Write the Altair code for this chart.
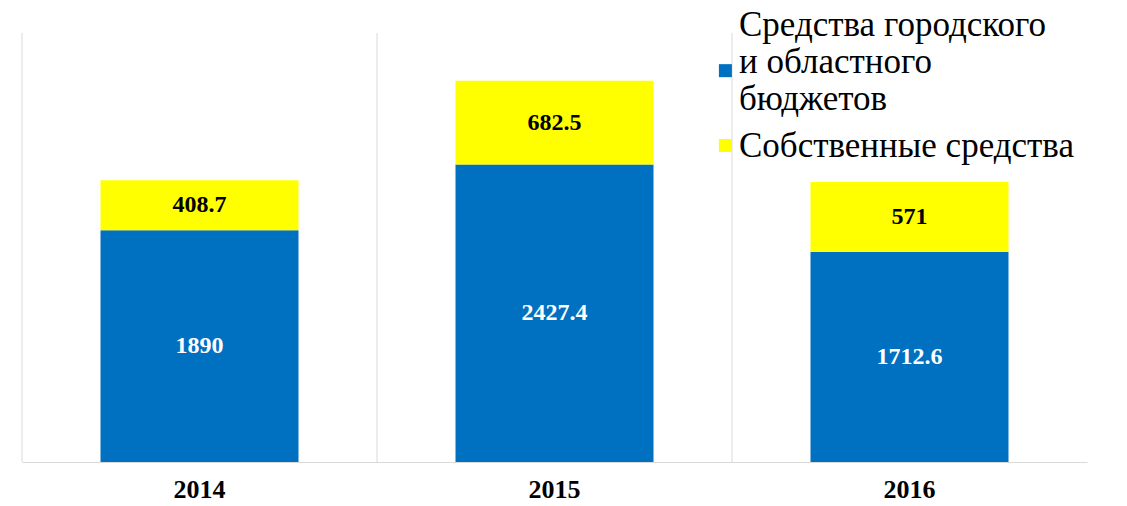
import altair as alt
import pandas as pd

years = ["2014", "2015", "2016"]
series = ["Средства городского и областного бюджетов", "Собственные средства"]
budget_values = [1890, 2427.4, 1712.6]
own_values = [408.7, 682.5, 571]
label_texts_budget = ["1890", "2427.4", "1712.6"]
label_texts_own = ["408.7", "682.5", "571"]
colors = ["#0070C0", "#FFFF00"]
# legend squares: the first is drawn lower so it sits by the middle line of its 3-line label
legend_shapes = ["M-0.4,6.1H1.6V8.1H-0.4Z", "M-0.4,-1H1.6V1H-0.4Z"]

rows = []
for i, y in enumerate(years):
    rows.append({"year": y, "series": series[0], "order": 0, "value": budget_values[i], "label": label_texts_budget[i]})
    rows.append({"year": y, "series": series[1], "order": 1, "value": own_values[i], "label": label_texts_own[i]})
df = pd.DataFrame(rows)

grid_df = pd.DataFrame({"year": years, "lo": [0, 0, 0], "hi": [3500, 3500, 3500]})

FONT = "Liberation Serif"
LEGEND_FONT = "Liberation Serif, DejaVu Serif, serif"

xscale = alt.Scale(domain=years, paddingInner=0, paddingOuter=0)
yscale = alt.Scale(domain=[0, 3500], nice=False)
cscale = alt.Scale(domain=series, range=colors)
sscale = alt.Scale(domain=series, range=legend_shapes)

xaxis = alt.Axis(
    labelFont=FONT,
    labelFontSize=26,
    labelFontWeight="bold",
    labelColor="#000000",
    labelAngle=0,
    ticks=False,
    domain=True,
    domainColor="#D9D9D9",
    domainWidth=1,
    grid=False,
    labelPadding=14,
    title=None,
)

legend_expr = (
    f"datum.label == '{series[0]}' ? ['Средства городского', 'и областного', 'бюджетов'] : datum.label"
)


def make_legend():
    return alt.Legend(
        title=None,
        orient="none",
        legendX=682,
        legendY=-26,
        symbolSize=169,
        symbolStrokeWidth=0,
        labelFont=LEGEND_FONT,
        labelFontSize=35,
        labelColor="#000000",
        labelLimit=0,
        labelExpr=legend_expr,
        padding=0,
        rowPadding=11,
        labelOffset=0,
    )


grid = alt.Chart(grid_df).mark_rule(color="#D9D9D9", strokeWidth=1).encode(
    x=alt.X("year:N", bandPosition=0, scale=xscale, axis=xaxis),
    y=alt.Y("lo:Q", scale=yscale, axis=None),
    y2="hi:Q",
)

bars = alt.Chart(df).mark_bar(size=198).encode(
    x=alt.X("year:N", scale=xscale, axis=xaxis),
    y=alt.Y("value:Q", stack="zero", scale=yscale, axis=None),
    color=alt.Color("series:N", scale=cscale, legend=make_legend()),
    order=alt.Order("order:Q"),
)

legend_layer = alt.Chart(df).transform_filter("false").mark_point(filled=True, opacity=1).encode(
    x=alt.X("year:N", scale=xscale, axis=xaxis),
    y=alt.Y("value:Q", scale=yscale, axis=None),
    color=alt.Color("series:N", scale=cscale, legend=make_legend()),
    shape=alt.Shape("series:N", scale=sscale, legend=make_legend()),
)

labels = alt.Chart(df).transform_stack(
    stack="value", groupby=["year"], as_=["y0", "y1"], sort=[alt.SortField("order")]
).transform_calculate(
    mid="(datum.y0 + datum.y1) / 2"
).mark_text(font=FONT, fontSize=24, fontWeight="bold", baseline="middle", align="center").encode(
    x=alt.X("year:N", scale=xscale),
    y=alt.Y("mid:Q", scale=yscale),
    text="label:N",
    color=alt.condition(alt.datum.order == 0, alt.value("#FFFFFF"), alt.value("#000000")),
)

chart = alt.layer(grid, bars, legend_layer, labels).properties(
    width=1065,
    height=429,
    background="#FFFFFF",
    autosize=alt.AutoSizeParams(type="none"),
    padding={"left": 14, "top": 25, "right": 30, "bottom": 40},
).configure(font=FONT).configure_view(strokeWidth=0, stroke="transparent").configure_legend(labelFont=LEGEND_FONT)

chart.save("out.html", embed_options={"renderer": "svg", "actions": False})
